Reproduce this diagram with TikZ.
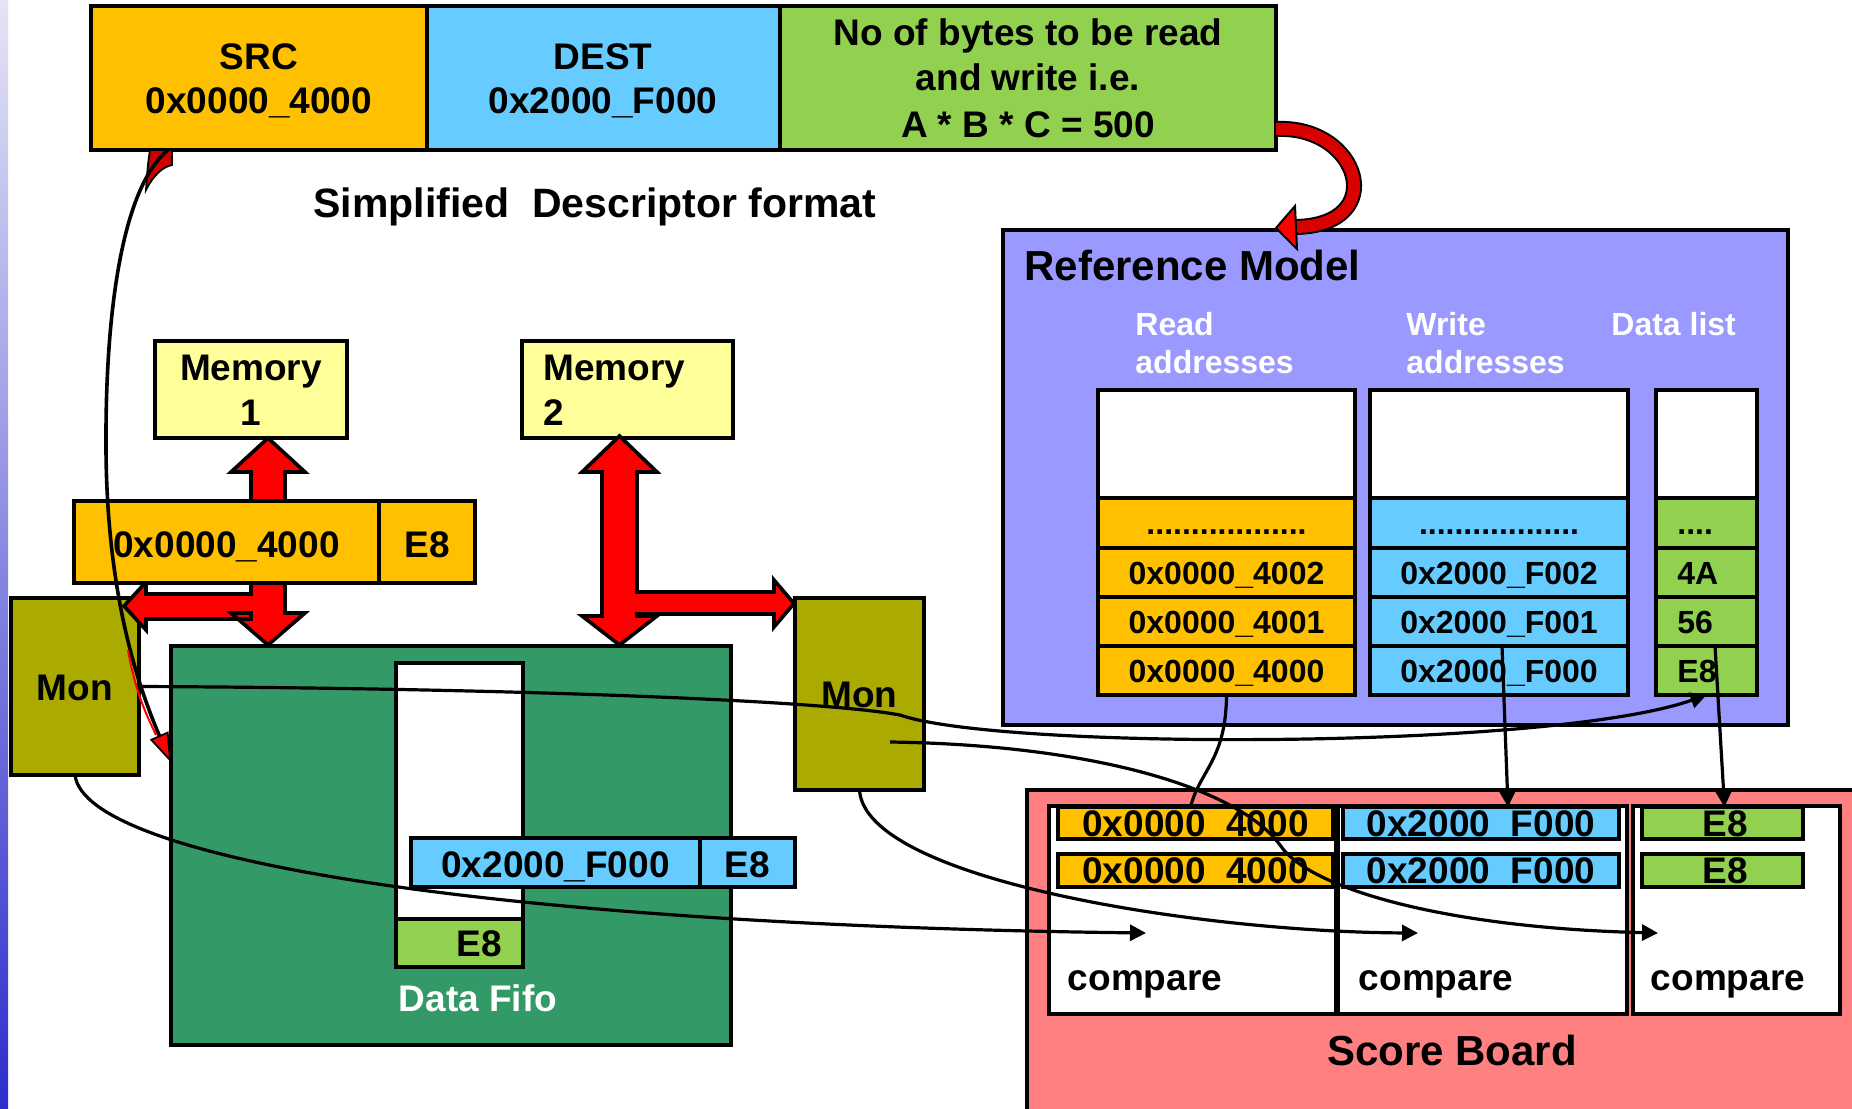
\documentclass[tikz,border=0pt]{standalone}
\usepackage{fontspec}
\setmainfont{Liberation Sans}
\usetikzlibrary{arrows.meta}
\definecolor{orng}{HTML}{FFC000}
\definecolor{lblue}{HTML}{66CCFF}
\definecolor{lgreen}{HTML}{92D050}
\definecolor{memy}{HTML}{FFFF99}
\definecolor{olivec}{HTML}{AAAA00}
\definecolor{fifog}{HTML}{339966}
\definecolor{rmpurp}{HTML}{9999FF}
\definecolor{sbred}{HTML}{FF8080}
\definecolor{arrred}{HTML}{FF0000}
\definecolor{barTop}{HTML}{E4E4F6}
\definecolor{barBot}{HTML}{2E2ECC}
\begin{document}
\begin{tikzpicture}[x=0.5pt,y=-0.5pt,
  bx/.style={draw=black, line width=2pt, rectangle, inner sep=0pt, outer sep=0pt, anchor=north west},
  fbig/.style={font=\fontsize{18.5}{22}\selectfont\bfseries, inner sep=0pt, text height=13.25pt, text depth=0pt},
  fhuge/.style={font=\fontsize{21}{25}\selectfont\bfseries, inner sep=0pt, text height=15pt, text depth=0pt},
  fsmall/.style={font=\fontsize{16}{19}\selectfont\bfseries, inner sep=0pt, text height=11.5pt, text depth=0pt},
  conn/.style={line width=1.6pt, -{Triangle[length=8pt,width=8pt]}},
  lineonly/.style={line width=1.6pt},
  blockarr/.style={fill=arrred, draw=black, line width=1.8pt, line join=miter},
]
\useasboundingbox (0,0) rectangle (1852,1108);
\clip (0,0) rectangle (1852,1108);
\fill[white] (0,0) rectangle (1852,1108);
\shade[top color=barTop, bottom color=barBot] (0,0) rectangle (8,1108);

% descriptor
\node[bx, fill=orng, minimum width=168pt, minimum height=72pt] (src) at (91,6) {};
\node[bx, fill=lblue, minimum width=176.5pt, minimum height=72pt] (dest) at (427,6) {};
\node[bx, fill=lgreen, minimum width=248pt, minimum height=72pt] (nbytes) at (780,6) {};
\node[fbig, anchor=base] (srct1) at (259,69) {SRC};
\node[fbig, anchor=base] (srct2) at (259,113) {0x0000\_4000};
\node[fbig, anchor=base] (destt1) at (603,69) {DEST};
\node[fbig, anchor=base] (destt2) at (603,113) {0x2000\_F000};
\node[fbig, anchor=base] (nb1) at (1028,45) {No of bytes to be read};
\node[fbig, anchor=base] (nb2) at (1028,90) {and write i.e.};
\node[fbig, anchor=base] (nb3) at (1028,137) {A * B * C = 500};
\node[font=\fontsize{20.5}{24}\selectfont\bfseries, inner sep=0pt, anchor=base] (title) at (595,217) {Simplified\ \ Descriptor format};

% memories
\node[bx, fill=memy, minimum width=96pt, minimum height=48.5pt] (mem1) at (155,341) {};
\node[fbig, anchor=base] (mem1a) at (251,380) {Memory};
\node[fbig, anchor=base] (mem1b) at (251,425) {1};
\node[bx, fill=memy, minimum width=105.5pt, minimum height=48.5pt] (mem2) at (522,341) {};
\node[fbig, anchor=base west] (mem2a) at (543,380) {Memory};
\node[fbig, anchor=base west] (mem2b) at (543,425) {2};

% monitors
\node[bx, fill=olivec, minimum width=64pt, minimum height=88.5pt] (monl) at (11,598) {};
\node[fbig, anchor=base] (monlt) at (75,700) {Mon};
\node[bx, fill=olivec, minimum width=64.5pt, minimum height=96pt] (monr) at (795,598) {};
\node[fbig, anchor=base] (monrt) at (859.5,707) {Mon};

% data fifo
\node[bx, fill=fifog, minimum width=280pt, minimum height=199.5pt] (fifo) at (171,646) {};
\node[fbig, anchor=base, text=white] (fifot) at (478,1011) {Data Fifo};
\node[bx, fill=white, minimum width=63.5pt, minimum height=128pt] (fifoslot) at (396,663) {};
\node[bx, fill=lgreen, minimum width=63.5pt, minimum height=24pt] (fifoe8) at (396,919) {};
\node[fbig, anchor=base] (fifoe8t) at (479,956) {E8};

% red block arrows
\filldraw[blockarr] (268,438) -- (305,472) -- (285,472) -- (285,613) -- (305,613) -- (268,645) -- (231,613) -- (251,613) -- (251,619) -- (146,619) -- (146,630) -- (124,606) -- (146,582) -- (146,594) -- (251,594) -- (251,472) -- (231,472) -- cycle;
\filldraw[blockarr] (619.5,436) -- (657,472) -- (637,472) -- (637,592) -- (774,592) -- (774,580) -- (794,603.5) -- (774,627) -- (774,614) -- (637,614) -- (637,616) -- (657,616) -- (619.5,645) -- (582,616) -- (602,616) -- (602,472) -- (582,472) -- cycle;

% strips
\node[bx, fill=orng, minimum width=152.5pt, minimum height=41pt] (strip) at (74,501) {};
\node[bx, fill=orng, minimum width=48pt, minimum height=41pt] (stripe8) at (379,501) {};
\node[fbig, anchor=base] (stript) at (226.5,557) {0x0000\_4000};
\node[fbig, anchor=base] (stripe8t) at (427,557) {E8};
\node[bx, fill=lblue, minimum width=144.5pt, minimum height=24.5pt] (wstrip) at (411,838) {};
\node[bx, fill=lblue, minimum width=47.5pt, minimum height=24.5pt] (wstripe8) at (700,838) {};
\node[fbig, anchor=base] (wstript) at (555.5,877) {0x2000\_F000};
\node[fbig, anchor=base] (wstripe8t) at (747.5,877) {E8};

% reference model
\node[bx, fill=rmpurp, minimum width=392.5pt, minimum height=247.5pt] (rm) at (1003,230) {};
\node[fhuge, anchor=base west] (rmt) at (1024,280) {Reference Model};
\node[fsmall, anchor=base west, text=white] (rdl1) at (1135,335) {Read};
\node[fsmall, anchor=base west, text=white] (rdl2) at (1135,373) {addresses};
\node[fsmall, anchor=base west, text=white] (wrl1) at (1406,335) {Write};
\node[fsmall, anchor=base west, text=white] (wrl2) at (1406,373) {addresses};
\node[fsmall, anchor=base west, text=white] (dll) at (1611,335) {Data list};

\node[bx, fill=white, minimum width=128.5pt, minimum height=54pt] (rm_rw) at (1098,390) {};
\node[bx, fill=orng, minimum width=128.5pt, minimum height=25pt, fsmall] (rm_r4) at (1098,498) {..................};
\node[bx, fill=orng, minimum width=128.5pt, minimum height=24.5pt, fsmall] (rm_r3) at (1098,548) {0x0000\_4002};
\node[bx, fill=orng, minimum width=128.5pt, minimum height=24.5pt, fsmall] (rm_r2) at (1098,597) {0x0000\_4001};
\node[bx, fill=orng, minimum width=128.5pt, minimum height=24.5pt, fsmall] (rm_r1) at (1098,646) {0x0000\_4000};

\node[bx, fill=white, minimum width=129pt, minimum height=54pt] (rm_ww) at (1370,390) {};
\node[bx, fill=lblue, minimum width=129pt, minimum height=25pt, fsmall] (rm_w4) at (1370,498) {..................};
\node[bx, fill=lblue, minimum width=129pt, minimum height=24.5pt, fsmall] (rm_w3) at (1370,548) {0x2000\_F002};
\node[bx, fill=lblue, minimum width=129pt, minimum height=24.5pt, fsmall] (rm_w2) at (1370,597) {0x2000\_F001};
\node[bx, fill=lblue, minimum width=129pt, minimum height=24.5pt, fsmall] (rm_w1) at (1370,646) {0x2000\_F000};

\node[bx, fill=white, minimum width=50.5pt, minimum height=54pt] (rm_dw) at (1656,390) {};
\node[bx, fill=lgreen, minimum width=50.5pt, minimum height=25pt] (rm_d4) at (1656,498) {};
\node[bx, fill=lgreen, minimum width=50.5pt, minimum height=24.5pt] (rm_d3) at (1656,548) {};
\node[bx, fill=lgreen, minimum width=50.5pt, minimum height=24.5pt] (rm_d2) at (1656,597) {};
\node[bx, fill=lgreen, minimum width=50.5pt, minimum height=24.5pt] (rm_d1) at (1656,646) {};
\node[fsmall, anchor=west] (rm_d4t) at (1677,523) {....};
\node[fsmall, anchor=west] (rm_d3t) at (1677,572.5) {4A};
\node[fsmall, anchor=west] (rm_d2t) at (1677,621.5) {56};
\node[fsmall, anchor=west] (rm_d1t) at (1677,670.5) {E8};

% score board
\node[bx, fill=sbred, minimum width=450pt, minimum height=200pt] (sb) at (1027,790) {};
\node[bx, fill=white, minimum width=143.5pt, minimum height=104pt] (cmp1) at (1049,806) {};
\node[bx, fill=white, minimum width=144.5pt, minimum height=104pt] (cmp2) at (1338,806) {};
\node[bx, fill=white, minimum width=103.5pt, minimum height=104pt] (cmp3) at (1633,806) {};
\node[bx, fill=orng, minimum width=137.5pt, minimum height=16pt, path picture={\node[fbig, anchor=center, draw=none, fill=none] at (path picture bounding box.center) {0x0000\_4000};}] (sb_o1) at (1058,807) {};
\node[bx, fill=orng, minimum width=137.5pt, minimum height=16.5pt, path picture={\node[fbig, anchor=center, draw=none, fill=none] at (path picture bounding box.center) {0x0000\_4000};}] (sb_o2) at (1058,854) {};
\node[bx, fill=lblue, minimum width=138pt, minimum height=16pt, path picture={\node[fbig, anchor=center, draw=none, fill=none] at (path picture bounding box.center) {0x2000\_F000};}] (sb_b1) at (1343,807) {};
\node[bx, fill=lblue, minimum width=138pt, minimum height=16.5pt, path picture={\node[fbig, anchor=center, draw=none, fill=none] at (path picture bounding box.center) {0x2000\_F000};}] (sb_b2) at (1343,854) {};
\node[bx, fill=lgreen, minimum width=80.5pt, minimum height=16pt, path picture={\node[fbig, anchor=center, draw=none, fill=none] at ([xshift=1.25pt]path picture bounding box.center) {E8};}] (sb_g1) at (1642,807) {};
\node[bx, fill=lgreen, minimum width=80.5pt, minimum height=16.5pt, path picture={\node[fbig, anchor=center, draw=none, fill=none] at ([xshift=1.25pt]path picture bounding box.center) {E8};}] (sb_g2) at (1642,854) {};
\node[fbig, anchor=base] (cmp1t) at (1145,990) {compare};
\node[fbig, anchor=base] (cmp2t) at (1436,990) {compare};
\node[fbig, anchor=base] (cmp3t) at (1728,990) {compare};
\node[fhuge, anchor=base] (sbt) at (1452,1065) {Score Board};

% connectors
\coordinate (mrstub) at (890,742);
\coordinate (cin1) at (1146,933);
\coordinate (cin2) at (1418,933);
\coordinate (cin3) at (1658,933);
\draw[conn] (monl.east) .. controls (500,688) and (820,700) .. (900,715) .. controls (1000,750) and (1550,750) .. (rm_d1.south);
\draw[conn] (mrstub) .. controls (1100,745) and (1240,790) .. (1280,845) .. controls (1310,890) and (1450,928) .. (cin3);
\draw[conn] (monr.south) .. controls (865,880) and (1200,932) .. (cin2);
\draw[conn] (monl.south) .. controls (85,860) and (500,925) .. (cin1);
\draw[lineonly] (rm_r1.south) .. controls (1226,760) and (1200,770) .. ([xshift=-2.5pt]sb_o1.north);
\draw[conn] ([xshift=1.5pt]rm_w1.north) -- ([xshift=13.5pt]sb_b1.north);
\draw[conn] ([xshift=4.25pt]rm_d1.north) -- ([xshift=1pt]sb_g1.north);

% red curved arrows
\coordinate (srcout) at (168,150);
\coordinate (fifoinback) at (159.5,736);
\filldraw[fill=arrred!80!black, draw=black, line width=0.9pt] (150,150) -- (172,150) -- (172,165) .. controls (162,167) and (153,176) .. (146,190) .. controls (147,175) and (148,162) .. cycle;
\draw[line width=1.8pt, draw=black] (srcout) .. controls (125,185) and (105,300) .. (106,450) .. controls (107,600) and (140,690) .. (fifoinback);
\draw[line width=1pt, draw=arrred] (128,650) .. controls (135,690) and (145,712) .. (156,735);
\filldraw[fill=arrred, draw=black, line width=0.9pt] (170,760) -- (167.7,732.6) -- (151.3,739.8) -- cycle;

\coordinate (nbout) at (1276,129);
\coordinate (rmin) at (1296,227);
\draw[line width=1pt, draw=black, double=arrred!85!black, double distance=6pt] (nbout) .. controls (1360,125) and (1390,225) .. (rmin);
\filldraw[fill=arrred, draw=black, line width=1pt] (1276,228) -- (1295,206) -- (1297,249) -- cycle;
\end{tikzpicture}
\end{document}
